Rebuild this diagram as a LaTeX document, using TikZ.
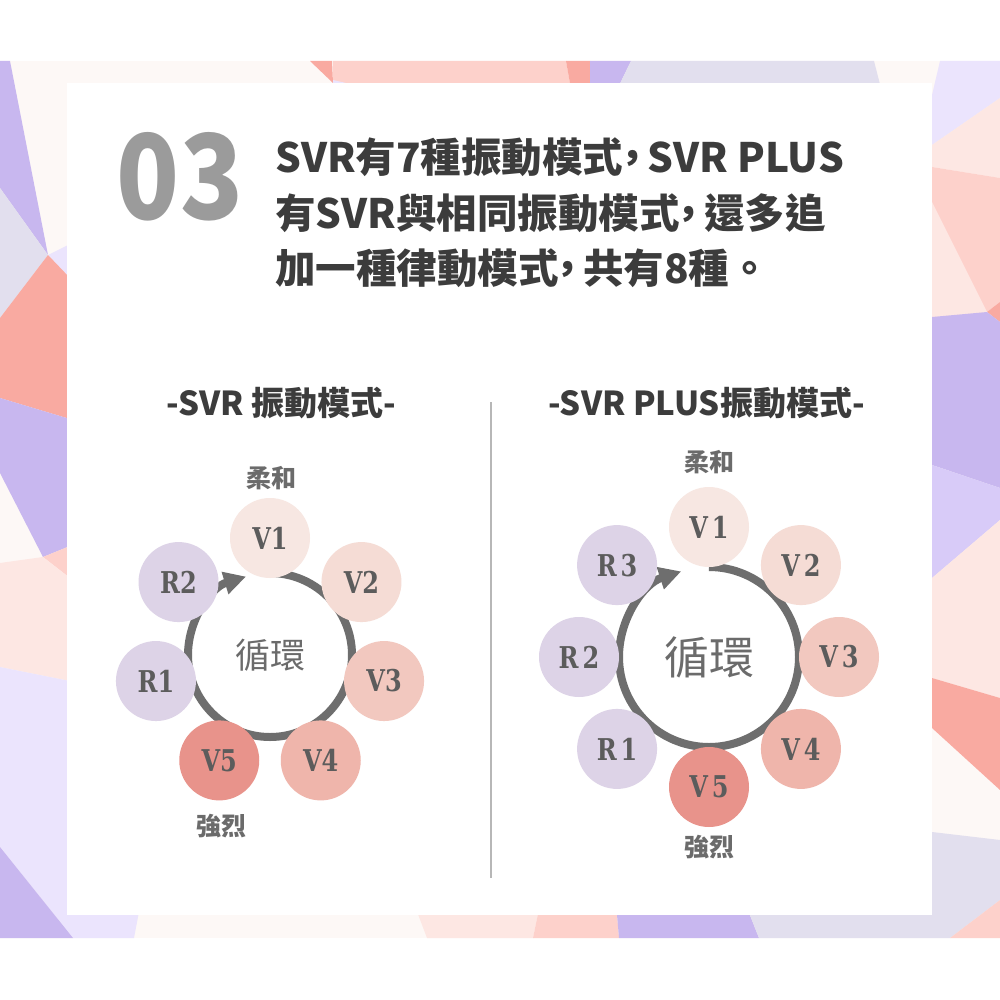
\documentclass[tikz,border=0pt]{standalone}
\usepackage{fontspec}
\usetikzlibrary{arrows.meta,calc}
\newfontfamily\cjk{Noto Sans CJK TC}
\newfontfamily\vser{DejaVu Serif}
\definecolor{cP}{HTML}{C8B7EF}
\definecolor{cL}{HTML}{EBE4FD}
\definecolor{cG}{HTML}{E2DFEE}
\definecolor{cW}{HTML}{FDF8F6}
\definecolor{cK}{HTML}{FDE7E3}
\definecolor{cN}{HTML}{FDD1CB}
\definecolor{cS}{HTML}{F9AAA1}
\definecolor{cLP}{HTML}{D8CBF8}
\definecolor{cVa}{HTML}{F7E7E2}
\definecolor{cVb}{HTML}{F5DCD5}
\definecolor{cVc}{HTML}{F2C8BF}
\definecolor{cVd}{HTML}{EFB5AB}
\definecolor{cVe}{HTML}{E8938B}
\definecolor{cRr}{HTML}{DDD3E7}
\definecolor{cTitle}{HTML}{3C3C3C}
\definecolor{cNum}{HTML}{9B9B9B}
\definecolor{cLab}{HTML}{6B6B6B}
\definecolor{cRing}{HTML}{6E6E6E}
\definecolor{cBub}{HTML}{5C5C5C}
\definecolor{cDiv}{HTML}{B7B7B7}
\newcommand\zcm{\kern-0.28em，\kern-0.12em}
\newcommand\blab[1]{\scalebox{0.8}[1]{#1}}
\tikzset{
  bub/.style={circle, minimum size=80pt, inner sep=0pt, text=cBub,
    font=\vser\bfseries\fontsize{30}{30}\selectfont},
  ringline/.style={line width=8pt, draw=cRing},
  titletext/.style={anchor=west, inner sep=0pt, text=cTitle,
    font=\cjk\bfseries\fontsize{40.5}{40.5}\selectfont},
  subhead/.style={inner sep=0pt, text=cTitle,
    font=\cjk\bfseries\fontsize{33}{33}\selectfont},
  endlab/.style={inner sep=0pt, text=cLab,
    font=\cjk\bfseries\fontsize{25}{25}\selectfont},
  centerlab/.style={inner sep=0pt, text=cLab},
  divider/.style={draw=cDiv, line width=2.5pt},
}
\begin{document}
\begin{tikzpicture}[x=1pt,y=-1pt]
\useasboundingbox (0,0) rectangle (1000,1000);
\fill[white] (0,0) rectangle (1000,1000);
% ---------- background band ----------
\fill[cW] (0,61) rectangle (1000,938);
% left strip
\fill[cP] (0,61) -- (10,61) -- (48,255) -- (0,188) -- cycle;
\fill[cG] (0,188) -- (48,255) -- (0,318) -- cycle;
\fill[cL] (48,255) -- (70,244) -- (70,278) -- cycle;
\fill[cS] (0,318) -- (48,255) -- (70,278) -- (70,419) -- (0,398) -- cycle;
\fill[cP] (0,398) -- (70,419) -- (70,546) -- (43,557) -- (0,473) -- cycle;
\fill[cN] (43,557) -- (70,546) -- (70,578) -- cycle;
\fill[cK] (0,563) -- (43,557) -- (70,578) -- (70,681) -- (0,667) -- cycle;
\fill[cL] (0,667) -- (70,681) -- (70,880) -- (145,880) -- (134,938) -- (73,938) -- (0,847) -- cycle;
\fill[cP] (0,847) -- (73,938) -- (0,938) -- cycle;
% bottom band
\fill[cK] (405,880) -- (545,880) -- (533,938) -- (427,938) -- cycle;
\fill[cN] (545,880) -- (614,880) -- (619,938) -- (533,938) -- cycle;
\fill[cP] (614,880) -- (736,880) -- (759,938) -- (619,938) -- cycle;
\fill[cG] (736,880) -- (932,880) -- (932,832) -- (1000,840) -- (1000,900) -- (950,938) -- (759,938) -- cycle;
\fill[cN] (1000,900) -- (1000,938) -- (950,938) -- cycle;
% top band
\fill[cS] (310,61) -- (332,61) -- (333,83) -- cycle;
\fill[cL] (312,100) -- (333,83) -- (336,100) -- cycle;
\fill[cN] (333,61) -- (566,61) -- (573,100) -- (333,100) -- cycle;
\fill[cL] (333,80) -- (420,100) -- (333,110) -- cycle;
\fill[cS] (566,61) -- (590,61) -- (590,100) -- (573,100) -- cycle;
\fill[cP] (590,61) -- (631,61) -- (612,100) -- (590,100) -- cycle;
\fill[cG] (631,61) -- (874,61) -- (884,100) -- (612,100) -- cycle;
% right strip
\fill[cL] (940,61) -- (1000,61) -- (1000,98) -- (932,145) -- (932,95) -- cycle;
\fill[cK] (932,145) -- (1000,98) -- (1000,178) -- (932,167) -- cycle;
\fill[cN] (932,167) -- (1000,178) -- (1000,302) -- (987,312) -- (932,317) -- cycle;
\fill[cK] (932,202) -- (987,312) -- (932,317) -- cycle;
\fill[cS] (987,312) -- (1000,302) -- (1000,322) -- cycle;
\fill[cP] (932,317) -- (987,312) -- (1000,322) -- (1000,488) -- (932,465) -- cycle;
\fill[cLP] (932,465) -- (1000,488) -- (1000,520) -- (932,578) -- cycle;
\fill[cK] (932,578) -- (1000,520) -- (1000,698) -- (932,678) -- cycle;
\fill[cS] (932,678) -- (1000,698) -- (1000,790) -- (932,728) -- cycle;
% ---------- card ----------
\fill[white] (67,83) rectangle (932,915);
% ---------- heading ----------
\node[inner sep=0pt, text=cNum, font=\cjk\bfseries\fontsize{109}{109}\selectfont] (num) at (180,177) {\scalebox{0.95}[1.08]{03}};
\node[titletext] (t1) at (275,157) {SVR有7種振動模式\zcm SVR PLUS};
\node[titletext] (t2) at (275,213) {有SVR與相同振動模式\zcm 還多追};
\node[titletext] (t3) at (275,268) {加一種律動模式\zcm 共有8種。};
% ---------- sub headings and divider ----------
\node[subhead] (hL) at (281.5,403) {-SVR 振動模式-};
\node[subhead] (hR) at (706.5,403) {-SVR PLUS振動模式-};
\coordinate (dtop) at (491,402);
\coordinate (dbot) at (491,878);
\draw[divider] (dtop) -- (dbot);
% ---------- left cycle ----------
\coordinate (CL) at (270,655);
\draw[ringline, -{Triangle[length=22pt,width=22pt]}] ($(CL)+(-90:82)$) arc[start angle=-90, end angle=253, radius=82];
\node[centerlab, font=\cjk\fontsize{35}{35}\selectfont] (cyL) at (CL) {循環};
\node[bub, fill=cVa] (LV1) at ($(CL)+(-90:117)$) {\blab{V1}};
\node[bub, fill=cVb] (LV2) at ($(CL)+(-38.57:117)$) {\blab{V2}};
\node[bub, fill=cVc] (LV3) at ($(CL)+(12.86:117)$) {\blab{V3}};
\node[bub, fill=cVd] (LV4) at ($(CL)+(64.29:117)$) {\blab{V4}};
\node[bub, fill=cVe] (LV5) at ($(CL)+(115.71:117)$) {\blab{V5}};
\node[bub, fill=cRr] (LR1) at ($(CL)+(167.14:117)$) {\blab{R1}};
\node[bub, fill=cRr] (LR2) at ($(CL)+(218.57:117)$) {\blab{R2}};
\node[endlab] (softL) at (271,478) {柔和};
\node[endlab] (hardL) at (221,826) {強烈};
% ---------- right cycle ----------
\coordinate (CR) at (709,657);
\draw[ringline, -{Triangle[length=22pt,width=22pt]}] ($(CR)+(-90:90)$) arc[start angle=-90, end angle=252, radius=90];
\node[centerlab, font=\cjk\fontsize{45}{45}\selectfont] (cyR) at (CR) {循環};
\node[bub, fill=cVa] (RV1) at ($(CR)+(-90:130)$) {\blab{V\kern5pt 1}};
\node[bub, fill=cVb] (RV2) at ($(CR)+(-45:130)$) {\blab{V\kern5pt 2}};
\node[bub, fill=cVc] (RV3) at ($(CR)+(0:130)$) {\blab{V\kern5pt 3}};
\node[bub, fill=cVd] (RV4) at ($(CR)+(45:130)$) {\blab{V\kern5pt 4}};
\node[bub, fill=cVe] (RV5) at ($(CR)+(90:130)$) {\blab{V\kern5pt 5}};
\node[bub, fill=cRr] (RR1) at ($(CR)+(135:130)$) {\blab{R\kern5pt 1}};
\node[bub, fill=cRr] (RR2) at ($(CR)+(180:130)$) {\blab{R\kern5pt 2}};
\node[bub, fill=cRr] (RR3) at ($(CR)+(225:130)$) {\blab{R\kern5pt 3}};
\node[endlab] (softR) at (709,462) {柔和};
\node[endlab] (hardR) at (709,847) {強烈};
\end{tikzpicture}
\end{document}
